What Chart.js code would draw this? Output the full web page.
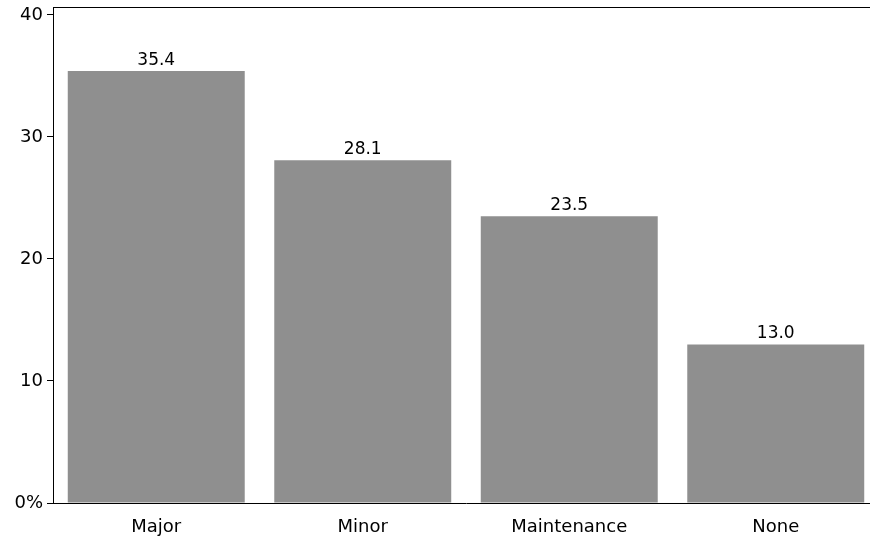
<!DOCTYPE html>
<html>
<head>
<meta charset="utf-8">
<script src="https://cdn.jsdelivr.net/npm/chart.js@4/dist/chart.umd.min.js"></script>
<style>
    html, body { margin: 0; padding: 0; background: #fff; overflow: hidden; }
    #wrap { width: 879px; height: 541px; }
</style>
</head>
<body>
<div id="wrap"><canvas id="chart"></canvas></div>
<script>
// Udzial kategorii (%)
const categories = ['Major', 'Minor', 'Maintenance', 'None'];
const shares = [35.4, 28.1, 23.5, 13.0];
const yTicks = [0, 10, 20, 30, 40];

const FONT = "'DejaVu Sans', Verdana, sans-serif";

// ramka u gory i etykiety nad slupkami
const extrasPlugin = {
    id: 'extras',
    afterDatasetsDraw(chart) {
        const { ctx, chartArea } = chart;
        ctx.save();
        ctx.strokeStyle = '#000';
        ctx.lineWidth = 1;
        ctx.beginPath();
        ctx.moveTo(chartArea.left, chartArea.top + 0.5);
        ctx.lineTo(chartArea.right, chartArea.top + 0.5);
        ctx.stroke();

        ctx.fillStyle = '#000';
        ctx.font = `17px ${FONT}`;
        ctx.textAlign = 'center';
        ctx.textBaseline = 'bottom';
        chart.getDatasetMeta(0).data.forEach((bar, i) => {
            ctx.fillText(shares[i].toFixed(1), bar.x, bar.y - 2);
        });
        ctx.restore();
    }
};

new Chart(document.getElementById('chart'), {
    type: 'bar',
    data: {
        labels: categories,
        datasets: [{
            data: shares,
            backgroundColor: '#8f8f8f',
            borderWidth: 0,
            categoryPercentage: 1,
            barPercentage: 0.857
        }]
    },
    options: {
        responsive: true,
        maintainAspectRatio: false,
        animation: false,
        layout: { padding: { top: 7, left: 0, right: 0, bottom: 0 } },
        plugins: { legend: { display: false }, tooltip: { enabled: false } },
        scales: {
            x: {
                grid: { display: false },
                border: { display: true, color: '#000', width: 1 },
                ticks: { color: '#000', font: { family: FONT, size: 18 }, padding: 6 },
                afterFit: scale => { scale.height = 38; scale.paddingLeft = 0; scale.paddingRight = 0; }
            },
            y: {
                min: 0,
                max: 40.65,
                afterBuildTicks: scale => { scale.ticks = yTicks.map(v => ({ value: v })); },
                grid: { drawOnChartArea: false, drawTicks: true, tickLength: 6, color: '#000' },
                border: { display: true, color: '#000', width: 1 },
                ticks: {
                    color: '#000',
                    padding: 4,
                    font: { family: FONT, size: 18 },
                    callback: v => v === 0 ? '0%' : String(v)
                },
                afterFit: scale => {
                    scale.width = 53;
                    scale.paddingTop = 0;
                    scale.paddingBottom = 0;
                }
            }
        }
    },
    plugins: [extrasPlugin]
});
</script>
</body>
</html>
